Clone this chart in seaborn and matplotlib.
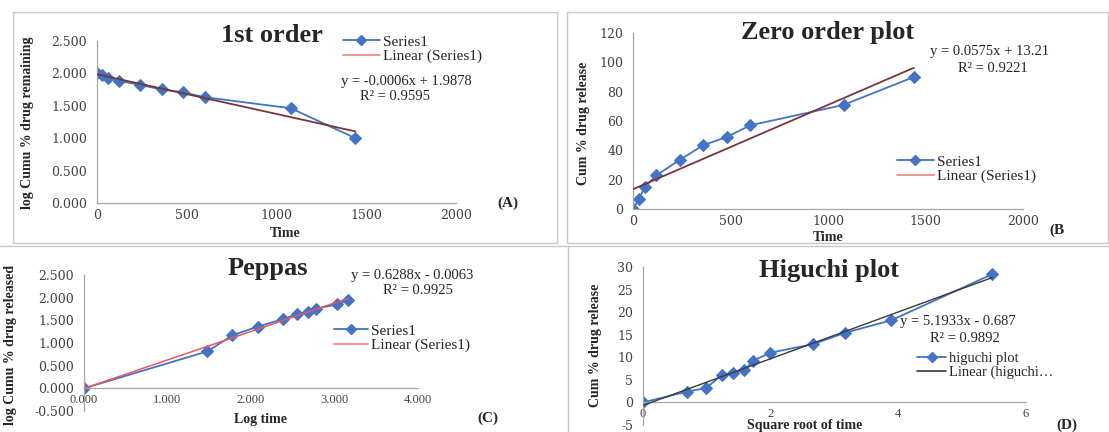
import numpy as np
import matplotlib
matplotlib.use("Agg")
import matplotlib.pyplot as plt
import seaborn as sns
from matplotlib.lines import Line2D
from matplotlib.patches import Rectangle

# Data
time_min = [0, 30, 60, 120, 240, 360, 480, 600, 1080, 1440]
log_remaining = [2.000, 1.970, 1.930, 1.886, 1.823, 1.752, 1.708, 1.633, 1.462, 1.000]
cum_release = [0, 6.6, 14.8, 23.0, 33.5, 43.5, 49.0, 57.0, 71.0, 90.0]
log_time = [0.000, 1.477, 1.778, 2.079, 2.380, 2.556, 2.681, 2.778, 3.033, 3.158]
log_release = [0.000, 0.815, 1.170, 1.360, 1.525, 1.638, 1.690, 1.756, 1.851, 1.954]
sqrt_time = [0, 0.69, 0.99, 1.23, 1.41, 1.59, 1.72, 1.99, 2.66, 3.16, 3.89, 5.47]
higuchi_release = [0, 2.4, 3.2, 6.0, 6.6, 7.1, 9.2, 11.0, 12.9, 15.4, 18.2, 28.4]

W, H = 1109, 432
BLUE = "#4472C4"
SERIF = "Liberation Serif"
EQ_SIZE = 10.5

sns.set_theme(style="white")
plt.rcParams["font.family"] = [SERIF, "DejaVu Serif"]
plt.rcParams["axes.unicode_minus"] = False

fig = plt.figure(figsize=(W / 100, H / 100), dpi=100)


def rect(l, r, t, b):
    return [l / W, 1 - b / H, (r - l) / W, (b - t) / H]


def ftext(x, y, s, **kw):
    fig.text(x / W, 1 - y / H, s, **kw)


def style_axes(ax):
    sns.despine(ax=ax)
    for sp in ["left", "bottom"]:
        ax.spines[sp].set_color("#a6a6a6")
        ax.spines[sp].set_linewidth(0.9)
    ax.tick_params(axis="both", labelsize=9, colors="#a6a6a6", labelcolor="#404040",
                   length=3, width=0.8, pad=4)
    ax.tick_params(axis="x", direction="in")
    ax.tick_params(axis="y", direction="out")
    for lab in ax.get_xticklabels() + ax.get_yticklabels():
        lab.set_fontfamily("DejaVu Serif")
    ax.set_facecolor("none")


def add_legend(ax, x, y, labels, fit_color, size=11, hl=2.4):
    handles = [
        Line2D([], [], color=BLUE, marker="D", markersize=5, lw=1.3),
        Line2D([], [], color=fit_color, lw=1.2),
    ]
    ax.legend(handles, labels, loc="upper left", bbox_to_anchor=(x / W, 1 - y / H),
              bbox_transform=fig.transFigure, frameon=False, borderpad=0,
              borderaxespad=0, labelspacing=0.05, handlelength=hl, handletextpad=0.2,
              prop={"family": SERIF, "size": size})


def draw_series(ax, x, y, fit_color, fit_lw=1.3):
    sns.regplot(x=x, y=y, ax=ax, scatter=False, ci=None, truncate=True,
                line_kws={"color": fit_color, "lw": fit_lw, "zorder": 3})
    sns.lineplot(x=x, y=y, ax=ax, color=BLUE, marker="D", markersize=6.5,
                 markeredgecolor=BLUE, lw=1.3, estimator=None, zorder=2)
    ax.set_xlabel("")
    ax.set_ylabel("")


# panel frames (Excel chart areas)
frame_kw = dict(fill=False, edgecolor="#c8c8c8", lw=1.0, transform=fig.transFigure)
fig.add_artist(Rectangle((13 / W, 1 - 243 / H), (557 - 13) / W, (243 - 12) / H, **frame_kw))
fig.add_artist(Rectangle((567 / W, 1 - 243 / H), (1108 - 567) / W, (243 - 12) / H, **frame_kw))
fig.add_artist(Line2D([0, 1], [1 - 246 / H] * 2, color="#c8c8c8", lw=1.0, transform=fig.transFigure))
fig.add_artist(Line2D([568 / W] * 2, [0, 1 - 246 / H], color="#c8c8c8", lw=1.0, transform=fig.transFigure))

# (A) first order
axA = fig.add_axes(rect(97, 456, 41, 203))
draw_series(axA, time_min, log_remaining, "#7a3535")
axA.set_xlim(0, 2000)
axA.set_ylim(0, 2.5)
axA.set_xticks(range(0, 2001, 500))
axA.set_yticks(np.arange(0, 2.51, 0.5))
axA.set_yticklabels([f"{v:.3f}" for v in np.arange(0, 2.51, 0.5)])
style_axes(axA)
add_legend(axA, 343, 35, ["Series1", "Linear (Series1)"], "#f08080")
ftext(272, 35, "1st order", ha="center", va="center", fontsize=19, fontweight="bold")
ftext(406, 81, "y = -0.0006x + 1.9878", ha="center", va="center", fontsize=EQ_SIZE)
ftext(395, 97, "R² = 0.9595", ha="center", va="center", fontsize=EQ_SIZE)
ftext(285, 234, "Time", ha="center", va="center", fontsize=10, fontweight="bold")
ftext(28, 123, "log Cumu % drug remaining", ha="center", va="center", rotation=90,
      fontsize=10, fontweight="bold")
ftext(508, 203, "(A)", ha="center", va="center", fontsize=11, fontweight="bold")

# (B) zero order
axB = fig.add_axes(rect(633, 1023, 33, 209))
draw_series(axB, time_min, cum_release, "#7a3535")
axB.set_xlim(0, 2000)
axB.set_ylim(0, 120)
axB.set_xticks(range(0, 2001, 500))
axB.set_yticks(range(0, 121, 20))
style_axes(axB)
add_legend(axB, 897, 155, ["Series1", "Linear (Series1)"], "#f08080")
ftext(828, 33, "Zero order plot", ha="center", va="center", fontsize=19, fontweight="bold")
ftext(990, 52, "y = 0.0575x + 13.21", ha="center", va="center", fontsize=EQ_SIZE)
ftext(993, 68, "R² = 0.9221", ha="center", va="center", fontsize=EQ_SIZE)
ftext(828, 237, "Time", ha="center", va="center", fontsize=10, fontweight="bold")
ftext(583, 123, "Cum % drug release", ha="center", va="center", rotation=90,
      fontsize=10, fontweight="bold")
ftext(1049, 230, "(B", ha="left", va="center", fontsize=11, fontweight="bold")

# (C) Korsmeyer-Peppas
axC = fig.add_axes(rect(84, 418, 275, 411))
draw_series(axC, log_time, log_release, "#e85a5a", fit_lw=1.1)
axC.set_xlim(0, 4)
axC.set_ylim(-0.5, 2.5)
axC.set_xticks(np.arange(0, 4.01, 1))
axC.set_xticklabels([f"{v:.3f}" for v in np.arange(0, 4.01, 1)])
axC.set_yticks(np.arange(-0.5, 2.51, 0.5))
axC.set_yticklabels([f"{v:.3f}" for v in np.arange(-0.5, 2.51, 0.5)])
style_axes(axC)
axC.spines["bottom"].set_position(("data", 0))
add_legend(axC, 334, 324, ["Series1", "Linear (Series1)"], "#f08080", hl=2.2)
ftext(268, 268, "Peppas", ha="center", va="center", fontsize=19, fontweight="bold")
ftext(412, 275, "y = 0.6288x - 0.0063", ha="center", va="center", fontsize=EQ_SIZE)
ftext(418, 291, "R² = 0.9925", ha="center", va="center", fontsize=EQ_SIZE)
ftext(260, 420, "Log time", ha="center", va="center", fontsize=10, fontweight="bold")
ftext(11, 345, "log Cumu % drug released", ha="center", va="center", rotation=90,
      fontsize=10, fontweight="bold")
ftext(488, 418, "(C)", ha="center", va="center", fontsize=11, fontweight="bold")

# (D) Higuchi
axD = fig.add_axes(rect(643, 1026, 267, 425))
draw_series(axD, sqrt_time, higuchi_release, "#3a3a3a", fit_lw=1.0)
axD.set_xlim(0, 6)
axD.set_ylim(-5, 30)
axD.set_xticks(range(0, 7, 2))
axD.set_yticks(range(-5, 31, 5))
style_axes(axD)
axD.spines["bottom"].set_position(("data", 0))
add_legend(axD, 917, 352, ["higuchi plot", "Linear (higuchi…"], "#3a3a3a", size=10.5, hl=2.0)
ftext(829, 270, "Higuchi plot", ha="center", va="center", fontsize=19, fontweight="bold")
ftext(958, 322, "y = 5.1933x - 0.687", ha="center", va="center", fontsize=EQ_SIZE)
ftext(965, 338, "R² = 0.9892", ha="center", va="center", fontsize=EQ_SIZE)
ftext(805, 425, "Square root of time", ha="center", va="center", fontsize=10, fontweight="bold")
ftext(595, 345, "Cum % drug release", ha="center", va="center", rotation=90,
      fontsize=10, fontweight="bold")
ftext(1067, 425, "(D)", ha="center", va="center", fontsize=11, fontweight="bold")

fig.savefig("out.png", dpi=100)
